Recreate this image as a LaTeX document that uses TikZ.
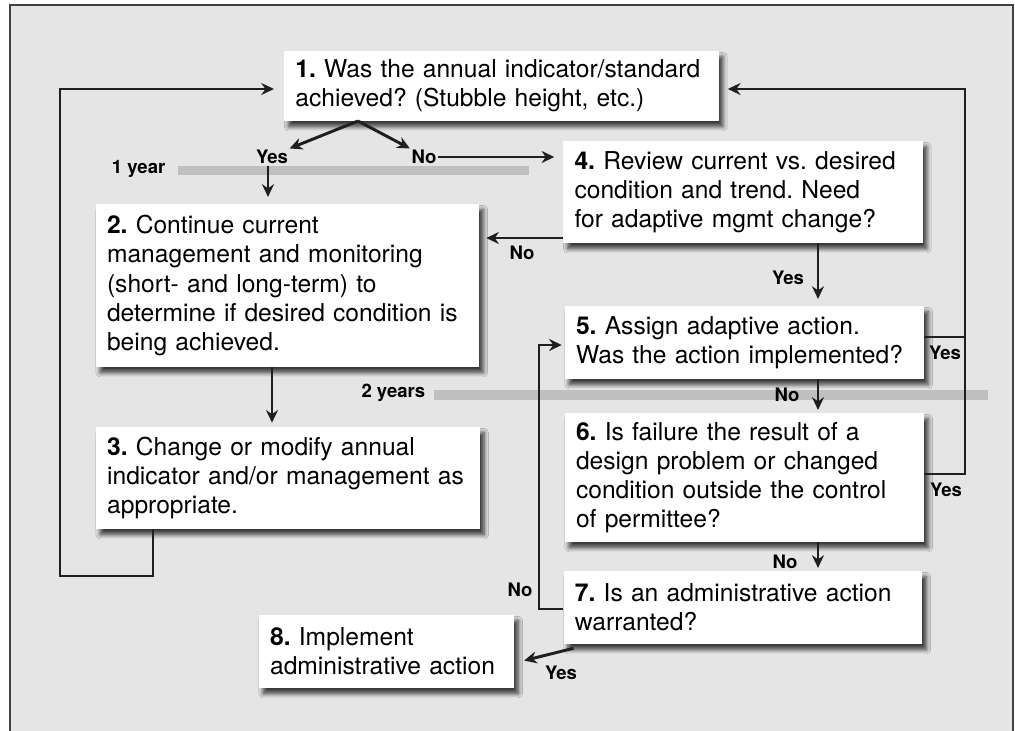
\documentclass[tikz,border=0pt]{standalone}
\usepackage{fontspec}
\setmainfont{TeX Gyre Heros}
\usetikzlibrary{shadows.blur, arrows.meta}

\tikzset{
  box/.style={fill=white, align=left, inner xsep=0.28cm, inner ysep=0pt, text width=#1,
    font=\fontsize{17.5}{20.7}\selectfont,
    blur shadow={shadow xshift=3pt, shadow yshift=-4pt, shadow blur steps=6,
      shadow blur radius=3pt, shadow opacity=75}},
  lbl/.style={font=\fontsize{13.2}{15}\selectfont\bfseries, inner sep=1pt},
  line/.style={draw=black!88, line width=2.1pt},
  arr/.style={line, -{Stealth[length=9pt, width=8.5pt]}},
  bar/.style={fill=black!25, draw=none}
}

\begin{document}
\frenchspacing
\begin{tikzpicture}[x=0.025cm, y=-0.025cm]
  \useasboundingbox (0,0) rectangle (1015,731);

  % background panel, open at the bottom
  \fill[black!10] (10,5) rectangle (1013,731);
  \draw[black!75, line width=1.6pt] (10,731) -- (10,5) -- (1013,5) -- (1013,731);

  % time bars
  \fill[bar] (178,166) rectangle (529,175);
  \fill[bar] (434,390) rectangle (988,400);
  \node[lbl, anchor=east] (yr1) at (167,169) {1 year};
  \node[lbl, anchor=east] (yr2) at (427,393) {2 years};

  % the steps
  \node[box=10.3cm, minimum height=1.75cm] (b1) at (501.5,86)
    {\textbf{1.} Was the annual indicator/standard\\ achieved? (Stubble height, etc.)};
  \node[box=9.02cm, minimum height=4.075cm] (b2) at (287.5,285.5)
    {\textbf{2.} Continue current\\ management and monitoring\\ (short- and long-term) to\\
     determine if desired condition is\\ being achieved.};
  \node[box=9.04cm, minimum height=2.55cm] (b3) at (288,478)
    {\textbf{3.} Change or modify annual\\ indicator and/or management as\\ appropriate.};
  \node[box=8.42cm, minimum height=2.55cm] (b4) at (743,192)
    {\textbf{4.} Review current vs. desired\\ condition and trend. Need\\ for adaptive mgmt change?};
  \node[box=8.42cm, minimum height=1.825cm] (b5) at (744.5,342.5)
    {\textbf{5.} Assign adaptive action.\\ Was the action implemented?};
  \node[box=8.42cm, minimum height=3.225cm] (b6) at (744.5,477.5)
    {\textbf{6.} Is failure the result of a\\ design problem or changed\\
     condition outside the control\\ of permittee?};
  \node[box=8.4cm, minimum height=1.825cm] (b7) at (743,607.5)
    {\textbf{7.} Is an administrative action\\ warranted?};
  \node[box=5.82cm, minimum height=1.825cm] (b8) at (386.5,651.5)
    {\textbf{8.} Implement\\ administrative action};

  % answers
  \node[lbl] (yes1) at (272,157) {Yes};
  \node[lbl] (no1) at (424,157) {No};
  \node[lbl] (no2) at (522,253) {No};
  \node[lbl] (yes2) at (788,278) {Yes};
  \node[lbl] (yes3) at (945,353) {Yes};
  \node[lbl] (no3) at (787,395) {No};
  \node[lbl] (yes4) at (946,490) {Yes};
  \node[lbl] (no4) at (785,562) {No};
  \node[lbl] (no5) at (520,590) {No};
  \node[lbl] (yes5) at (561,673) {Yes};

  % connectors
  \coordinate (fork) at (358,121);
  \draw[arr] (fork) -- (yes1.north east);
  \draw[arr] (fork) -- (no1.north west);
  \draw[arr, shorten >=0.22cm] (no1.east) -- (b4.west |- no1.east);
  \draw[arr, shorten >=0.17cm] (yes1.south -| 268,0) -- (b2.north -| 268,0);
  \draw[arr, shorten >=0.17cm] (b4.west |- 0,238) -- (b2.east |- 0,238);
  \draw[arr, shorten >=0.17cm] (b4.south -| 818,0) -- (b5.north -| 818,0);
  \draw[arr, shorten >=0.07cm] (b5.south -| 818,0) -- (b6.north -| 818,0);
  \draw[arr, shorten >=0.07cm] (b6.south -| 818,0) -- (b7.north -| 818,0);
  \draw[arr, shorten >=0.1cm] (b2.south -| 272,0) -- (b3.north -| 272,0);

  % loops back to step 1
  \draw[line] (b5.east |- 0,337) -- (965,337);
  \draw[arr, shorten >=0.22cm] (b6.east |- 0,474) -- (965,474) -- (965,89) -- (b1.east |- 0,89);
  \draw[arr, shorten >=0.25cm] (b3.south -| 153,0) -- (153,576) -- (60,576) -- (60,89)
    -- (b1.west |- 0,89);

  % step 7 answers
  \draw[arr, shorten >=0.07cm] (b7.west |- 0,609) -- (539,609) -- (539,345) -- (b5.west |- 0,345);
  \draw[arr, shorten >=0.25cm] ([shift={(10,4)}]b7.south west) -- (b8.east |- 0,663);
\end{tikzpicture}
\end{document}
